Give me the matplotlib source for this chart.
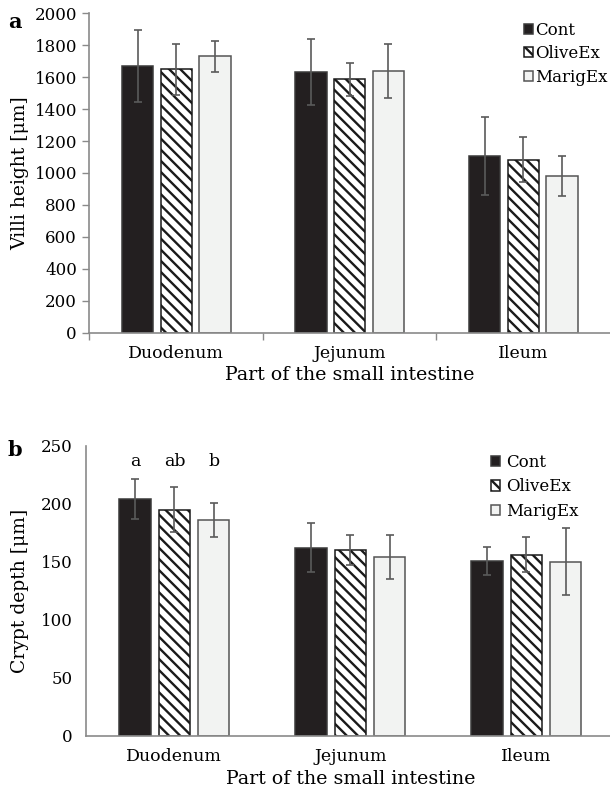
import numpy as np
import matplotlib
matplotlib.use("Agg")
import matplotlib.pyplot as plt

parts = ["Duodenum", "Jejunum", "Ileum"]
groups = ["Cont", "OliveEx", "MarigEx"]

villi_mean = {"Cont": [1670, 1635, 1104],
              "OliveEx": [1651, 1587, 1084],
              "MarigEx": [1731, 1639, 983]}
villi_err = {"Cont": [225, 207, 244],
             "OliveEx": [160, 105, 142],
             "MarigEx": [96, 171, 125]}

crypt_mean = {"Cont": [204, 162, 151],
              "OliveEx": [195, 160, 156],
              "MarigEx": [186, 154, 150]}
crypt_err = {"Cont": [17, 21, 12],
             "OliveEx": [19, 13, 15],
             "MarigEx": [15, 19, 29]}

sig_letters = ["a", "ab", "b"]

plt.rcParams["font.family"] = ["DejaVu Serif"]
plt.rcParams["hatch.linewidth"] = 1.7
plt.rcParams["hatch.color"] = "#1a1a1a"

styles = {"Cont": dict(color="#231f20", edgecolor="#3a3a3a"),
          "OliveEx": dict(color="white", edgecolor="#1a1a1a", hatch="\\\\\\"),
          "MarigEx": dict(color="#f2f3f2", edgecolor="#555555")}
offsets = [-0.223, 0.0, 0.223]
bar_w = 0.18
grey = "#8a8a8a"


def draw(ax, means, errs):
    x = np.arange(len(parts))
    for g, off in zip(groups, offsets):
        ax.bar(x + off, means[g], bar_w, linewidth=1.1, label=g,
               zorder=2, **styles[g])
        ax.errorbar(x + off, means[g], yerr=errs[g], fmt="none",
                    ecolor="#5a5a5a", elinewidth=1.2, capsize=2.8,
                    capthick=1.2, zorder=3)
    ax.set_xlim(-0.5, 2.5)
    ax.set_xticks(x)
    ax.set_xticklabels(parts, fontsize=12.5)
    ax.tick_params(axis="x", length=0, pad=9)
    for s in ["top", "right"]:
        ax.spines[s].set_visible(False)
    for s in ["left", "bottom"]:
        ax.spines[s].set_color(grey)
        ax.spines[s].set_linewidth(1.2)
    ax.set_xlabel("Part of the small intestine", fontsize=13.7, labelpad=3)


fig = plt.figure(figsize=(6.1, 7.93), dpi=100)

# panel a
ax1 = fig.add_axes([0.1467, 0.5805, 0.8533, 0.4027])
draw(ax1, villi_mean, villi_err)
ax1.set_ylim(0, 2000)
ax1.set_yticks(range(0, 2001, 200))
ax1.tick_params(axis="y", labelsize=12, length=5, width=1, color=grey, pad=4)
ax1.set_xticks([-0.5, 0.5, 1.5], minor=True)
ax1.tick_params(axis="x", which="minor", length=5, width=1, color=grey)
ax1.set_ylabel("Villi height [μm]", fontsize=13.5)
ax1.yaxis.set_label_coords(-0.115, 0.5)
ax1.legend(loc="upper right", bbox_to_anchor=(1.008, 0.995), frameon=False,
           fontsize=12, handlelength=0.55, handleheight=0.55,
           handletextpad=0.1, labelspacing=0.4, borderaxespad=0)
fig.text(0.013, 0.972, "a", fontsize=15, fontweight="bold", va="center")

# panel b
ax2 = fig.add_axes([0.1416, 0.0719, 0.8656, 0.3661])
draw(ax2, crypt_mean, crypt_err)
ax2.set_ylim(0, 250)
ax2.set_yticks(range(0, 251, 50))
ax2.tick_params(axis="y", labelsize=12, length=0, pad=10)
ax2.set_ylabel("Crypt depth [μm]", fontsize=13.5)
ax2.yaxis.set_label_coords(-0.108, 0.5)
for xi, lab in zip(np.array(offsets), sig_letters):
    ax2.text(xi, 236, lab, ha="center", va="center", fontsize=12.5)
ax2.legend(loc="upper right", bbox_to_anchor=(0.944, 0.995), frameon=False,
           fontsize=12, handlelength=0.55, handleheight=0.6,
           handletextpad=0.35, labelspacing=0.45, borderaxespad=0)
fig.text(0.013, 0.432, "b", fontsize=15, fontweight="bold", va="center")

fig.savefig("out.png", dpi=100)
